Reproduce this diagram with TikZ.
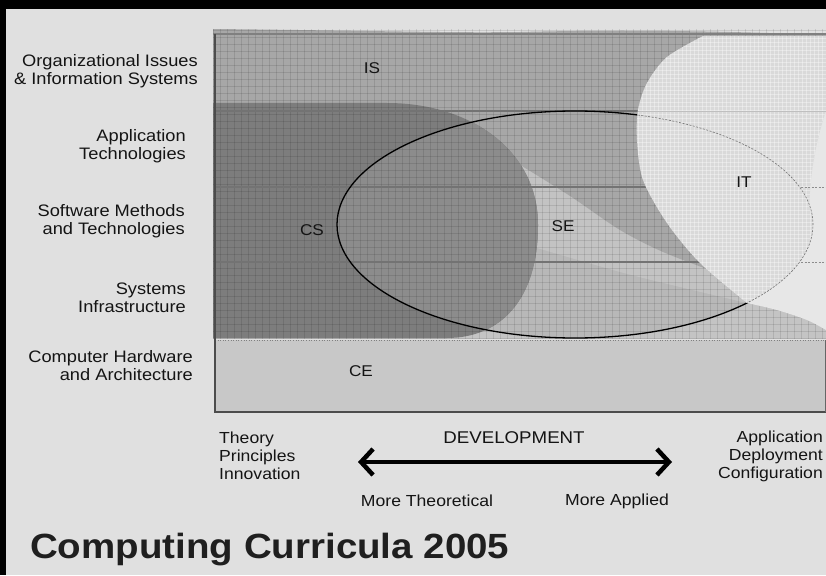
\documentclass[tikz,border=0pt]{standalone}
\usepackage{fontspec}
\setmainfont{Liberation Sans}[FakeStretch=1.1]
\usetikzlibrary{arrows.meta}
\definecolor{bgc}{gray}{0.88}
\definecolor{isc}{gray}{0.655}
\definecolor{csc}{gray}{0.49}
\definecolor{csin}{gray}{0.55}
\definecolor{itc}{gray}{0.85}
\definecolor{wedgec}{gray}{0.905}
\definecolor{cec}{gray}{0.785}
\definecolor{selight}{gray}{0.765}
\definecolor{selow}{gray}{0.72}
\definecolor{outc}{gray}{0.77}
\definecolor{txt}{gray}{0.08}
\newcommand\cspath{(213,103) -- (387,103) .. controls (470,103) and (538,150) .. (538,225) .. controls (538,300) and (500,338) .. (447,338) -- (213,338) -- cycle}
\newcommand\sepath{(575,224.5) ellipse [x radius=238, y radius=113.5]}
\newcommand\itpath{(703,36) -- (826,36) -- (826,111) .. controls (816,140) and (810,175) .. (809.4,204.8) -- plot[domain=-10:43.7,samples=40] ({575+238*cos(\x)},{224.5+113.5*sin(\x)}) -- plot[smooth] coordinates {(747,303) (700,263) (667,223) (643,180) (637,140) (638,110) (647,83) (667,57) (703,36)} -- cycle}
\begin{document}
\begin{tikzpicture}[x=1pt,y=-1pt,
  lab/.style={font=\fontsize{16.6}{18}\selectfont, text=txt, inner sep=0pt, align=right, anchor=east},
  reg/.style={font=\fontsize{15.6}{18}\selectfont, text=txt, inner sep=0pt},
  bot/.style={font=\fontsize{16}{18}\selectfont, text=txt, inner sep=0pt},
  rowline/.style={draw=black!55, line width=1.1pt},
  gridline/.style={draw=black, opacity=0.1, line width=0.6pt},
  fineline/.style={draw=white, opacity=0.35, line width=0.5pt}]
\useasboundingbox (0,0) rectangle (826,575);
\fill[bgc] (0,0) rectangle (826,575);
\fill[black] (0,0) rectangle (826,9);
\fill[black] (0,0) rectangle (6,575);

% lower base (outside ellipse, bottom right)
\fill[outc] (213,105) rectangle (826,339);
% inside SE ellipse
\begin{scope}
  \clip \sepath;
  \fill[selow] (213,105) rectangle (826,339);
  \fill[selight] (470,130) -- (740,260) -- (752,304) -- plot[smooth] coordinates {(747,303) (680,287) (620,272) (537,248)} -- (470,240) -- cycle;
\end{scope}
% IS region with lobe
\fill[isc] (213,29) .. controls (400,31) and (450,33) .. (520,32) .. controls (600,30) and (700,30) .. (826,35) -- (826,111) -- (800,200) -- (760,300) -- plot[smooth] coordinates {(715,272) (663,252) (620,230) (570,196) (517,163)} -- (470,125) -- (213,111) -- cycle;
% CS region
\fill[csc] \cspath;
\begin{scope}
  \clip \sepath;
  \fill[csin] \cspath;
\end{scope}
% grid texture
\begin{scope}
  \clip (213,29) rectangle (826,339);
  \foreach \i in {0,...,88} { \draw[gridline] (213+7*\i,29) -- (213+7*\i,339); }
  \foreach \j in {0,...,44} { \draw[gridline] (213,30+7*\j) -- (826,30+7*\j); }
\end{scope}
% row lines
\draw[rowline] (215,111) -- (826,111);
\draw[rowline] (215,187) -- (826,187);
\draw[rowline] (215,262) -- (826,262);
% SE outline (solid)
\draw[black, line width=1.3pt] \sepath;
% lightest wedge at right
\fill[wedgec] (790,108) -- (826,108) -- plot[smooth] coordinates {(826,330) (807,320) (777,310) (747,303)} -- (760,200) -- cycle;
% IT region
\fill[itc] \itpath;
\begin{scope}
  \clip \itpath;
  \foreach \i in {0,...,50} { \draw[fineline] (630+4*\i,30) -- (630+4*\i,310); }
  \foreach \j in {0,...,70} { \draw[fineline] (630,34+4*\j) -- (826,34+4*\j); }
  \draw[black!25, line width=0.8pt] (630,111) -- (826,111);
\end{scope}
\draw[black!55, line width=0.6pt, dash pattern=on 2pt off 1.5pt] plot[domain=-74.7:43.7,samples=80] ({575+238*cos(\x)},{224.5+113.5*sin(\x)});
\draw[black!45, line width=0.7pt, dash pattern=on 2pt off 1.5pt] (801,187) -- (826,187);
\draw[black!45, line width=0.7pt, dash pattern=on 2pt off 1.5pt] (801,262) -- (826,262);

% CE box
\fill[cec] (215,340) rectangle (826,412);
\draw[black!50, line width=0.6pt, dotted] (215,340) -- (826,340);
% frame
\draw[black!50, line width=1.2pt] (213,34) -- (826,34);
\draw[black!70, line width=1.3pt] (215,34) -- (215,412) -- (826,412);
\draw[black!60, line width=1pt] (825,340) -- (825,412);

% labels left
\node[lab] (l1) at (198,71) {Organizational Issues\\\& Information Systems};
\node[lab] (l2) at (186,146) {Application\\Technologies};
\node[lab] (l3) at (185,221) {Software Methods\\and Technologies};
\node[lab] (l4) at (186,298) {Systems\\Infrastructure};
\node[lab] (l5) at (193,366) {Computer Hardware\\and Architecture};

% region labels
\node[reg] (is) at (372,68) {IS};
\node[reg] (cs) at (312,230) {CS};
\node[reg] (se) at (563,226) {SE};
\node[reg] (it) at (744,182) {IT};
\node[reg] (ce) at (361,371) {CE};

% bottom
\node[bot, align=left, anchor=west] (theory) at (219,456) {Theory\\Principles\\Innovation};
\node[bot, align=right, anchor=east] (appl) at (823,456) {Application\\Deployment\\Configuration};
\node[bot, font=\fontsize{17}{18}\selectfont] (dev) at (514,438) {DEVELOPMENT};
\node[bot] (mt) at (427,501) {More Theoretical};
\node[bot] (ma) at (617,501) {More Applied};
\coordinate (arrL) at (358,462);
\coordinate (arrR) at (672,462);
\draw[line width=4.5pt, {Straight Barb[length=12pt,width=26pt]}-{Straight Barb[length=12pt,width=26pt]}] (arrL) -- (arrR);
\node[font=\fontsize{35}{40}\selectfont\bfseries, text=black!88, anchor=base west, inner sep=0pt] (title) at (30,558) {Computing Curricula 2005};
\end{tikzpicture}
\end{document}
